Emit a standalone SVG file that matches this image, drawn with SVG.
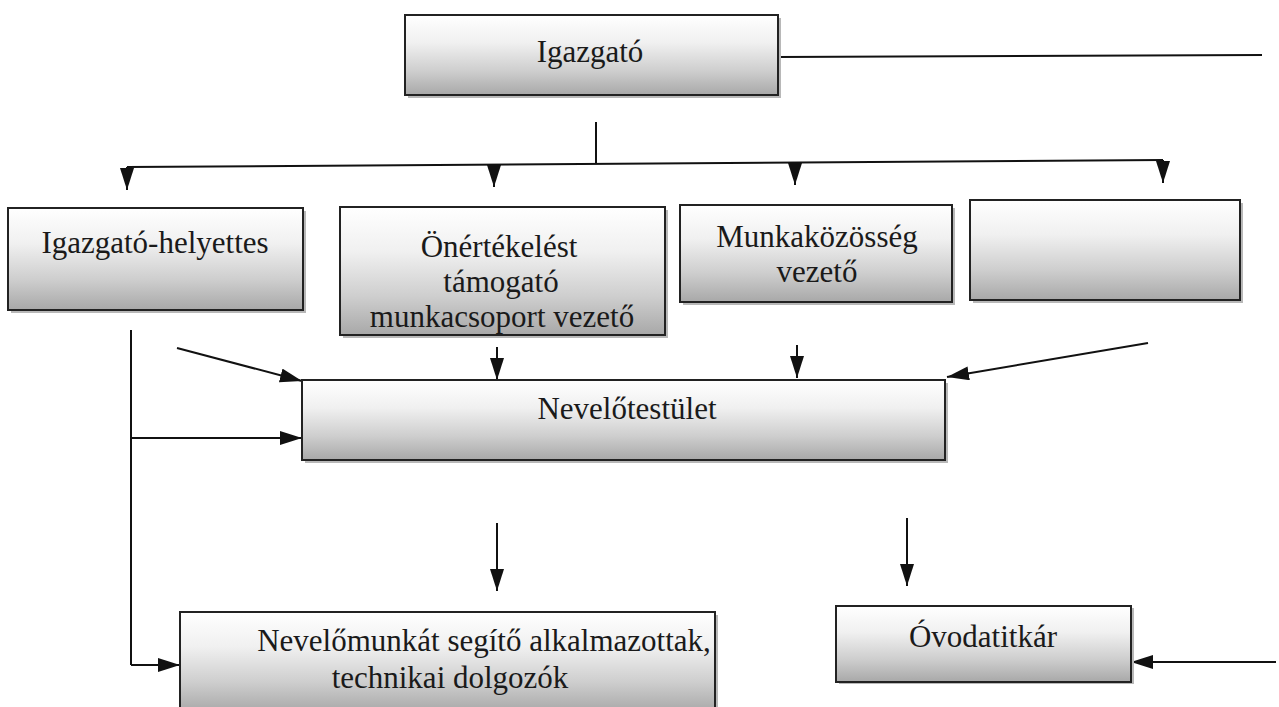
<svg xmlns="http://www.w3.org/2000/svg" width="1279" height="707" viewBox="0 0 1279 707">
  <style>
    .box { fill: url(#boxFill); stroke: #222; stroke-width: 2; }
    .shadow { fill: #b8b8b8; }
    text { font-family: 'Liberation Serif', 'DejaVu Serif', serif; font-size: 31px; fill: #1a1a1a; text-anchor: middle; }
    .wire { fill: none; stroke: #111; stroke-width: 2; }
    .arrow { fill: none; stroke: #111; stroke-width: 2; marker-end: url(#head); }
  </style>
  <defs>
    <linearGradient id="boxFill" x1="0" y1="0" x2="0" y2="1">
      <stop offset="0" stop-color="#ffffff"/>
      <stop offset="0.35" stop-color="#f0f0f0"/>
      <stop offset="0.7" stop-color="#cecece"/>
      <stop offset="1" stop-color="#a8a8a8"/>
    </linearGradient>
    <marker id="head" markerUnits="userSpaceOnUse" markerWidth="24" markerHeight="16" refX="22" refY="7" orient="auto">
      <path d="M0,0 L22,7 L0,14 z" fill="#111"/>
    </marker>
  </defs>

  <rect width="1279" height="707" fill="#ffffff"/>

  <!-- connectors -->
  <g id="connectors">
    <!-- director to the right edge -->
    <path class="wire" d="M778,57 L1262,55"/>
    <!-- director down to the distribution bar -->
    <path class="wire" d="M596,122 L596,164"/>
    <path class="wire" d="M127,167 L1163,160"/>
    <path class="arrow" d="M127,167 L127,190"/>
    <path class="arrow" d="M494,165 L494,187"/>
    <path class="arrow" d="M795,163 L795,185"/>
    <path class="arrow" d="M1163,160 L1163,183"/>
    <!-- deputy trunk -->
    <path class="wire" d="M131,330 L131,665"/>
    <path class="arrow" d="M131,438 L302,438"/>
    <path class="arrow" d="M131,665 L180,665"/>
    <!-- into the teaching staff -->
    <path class="arrow" d="M177,348 L302,381"/>
    <path class="arrow" d="M497,347 L497,380"/>
    <path class="arrow" d="M797,345 L797,378"/>
    <path class="arrow" d="M1148,343 L947,377"/>
    <!-- down from the teaching staff -->
    <path class="arrow" d="M497,523 L497,591"/>
    <path class="arrow" d="M907,518 L907,586"/>
    <!-- into the secretary -->
    <path class="arrow" d="M1276,662 L1131,662"/>
  </g>

  <g id="igazgato">
    <rect class="shadow" x="408" y="18" width="373" height="80"/>
    <rect class="box" x="405" y="15" width="373" height="80"/>
    <text x="590" y="62" font-size="32">Igazgató</text>
  </g>

  <g id="helyettes">
    <rect class="shadow" x="11" y="211" width="295" height="102"/>
    <rect class="box" x="8" y="208" width="295" height="102"/>
    <text x="155" y="253">Igazgató-helyettes</text>
  </g>

  <g id="onertekeles">
    <rect class="shadow" x="343" y="210" width="325" height="128"/>
    <rect class="box" x="340" y="207" width="325" height="128"/>
    <text x="499" y="257">Önértékelést</text>
    <text x="501" y="292">támogató</text>
    <text x="502" y="327">munkacsoport vezető</text>
  </g>

  <g id="munkakozosseg">
    <rect class="shadow" x="683" y="208" width="272" height="97"/>
    <rect class="box" x="680" y="205" width="272" height="97"/>
    <text x="817" y="247">Munkaközösség</text>
    <text x="817" y="282">vezető</text>
  </g>

  <g id="ures">
    <rect class="shadow" x="973" y="203" width="270" height="100"/>
    <rect class="box" x="970" y="200" width="270" height="100"/>
  </g>

  <g id="nevelotestulet">
    <rect class="shadow" x="305" y="383" width="643" height="80"/>
    <rect class="box" x="302" y="380" width="643" height="80"/>
    <text x="627" y="419">Nevelőtestület</text>
  </g>

  <g id="segitok">
    <rect class="shadow" x="183" y="615" width="535" height="100"/>
    <rect class="box" x="180" y="612" width="535" height="100"/>
    <text x="484" y="651">Nevelőmunkát segítő alkalmazottak,</text>
    <text x="450" y="688">technikai dolgozók</text>
  </g>

  <g id="ovodatitkar">
    <rect class="shadow" x="839" y="608" width="295" height="76"/>
    <rect class="box" x="836" y="606" width="295" height="76"/>
    <text x="983" y="647">Óvodatitkár</text>
  </g>
</svg>
